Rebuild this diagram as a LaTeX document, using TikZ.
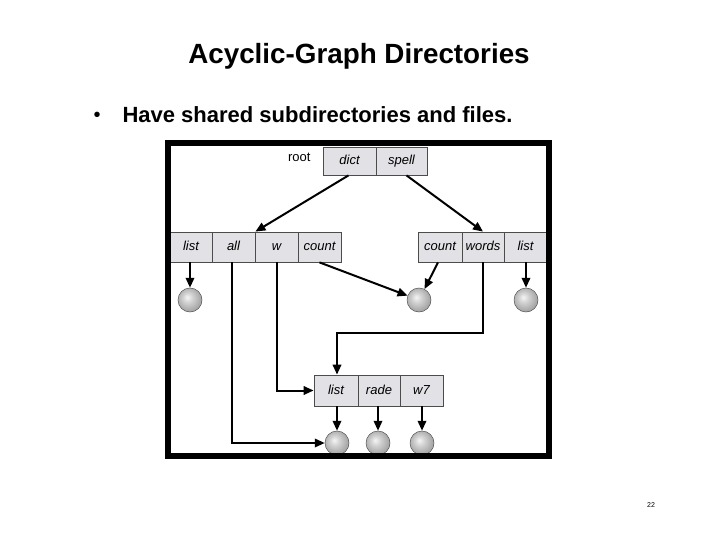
\documentclass[tikz,border=0pt]{standalone}
\usepackage{fontspec}
\setmainfont{Liberation Sans}
\usetikzlibrary{arrows.meta}
\definecolor{cellgray}{RGB}{226,226,230}
\pgfdeclareradialshading{fileball}{\pgfpoint{-6bp}{6bp}}{%
  color(0bp)=(gray!8); color(10bp)=(gray!35); color(22bp)=(gray!62); color(26bp)=(gray!70); color(50bp)=(gray!70)}
\begin{document}
\begin{tikzpicture}[x=1pt,y=-1pt,
 cell/.style={draw=black!70, line width=0.8pt, fill=cellgray, minimum height=30pt, inner sep=0pt, text height=9.5pt, text depth=2pt, font=\fontsize{13}{15}\selectfont\itshape},
 ballnode/.style={circle, minimum size=24pt, inner sep=0pt, shading=fileball, draw=gray!65!black, line width=0.5pt},
 arr/.style={line width=2pt, -{Triangle[length=10pt,width=8.5pt]}}]
\useasboundingbox (0,0) rectangle (720,540);

\node[font=\bfseries\fontsize{27.8}{32}\selectfont, anchor=base] (title) at (359,64) {Acyclic-Graph Directories};
\node[anchor=base west, font=\fontsize{20}{24}\selectfont] (bul) at (90,122) {•};
\node[anchor=base west, font=\bfseries\fontsize{22}{26}\selectfont] (btxt) at (119,123) {Have shared subdirectories and files.};
\node[font=\fontsize{7}{8}\selectfont] (pg) at (651,505) {22};

% root
\node[anchor=base east, font=\fontsize{13}{15}\selectfont] (root) at (314,162) {root};
\node[cell, minimum width=53pt, minimum height=28pt] (dict) at (349.5,161) {dict};
\node[cell, minimum width=51pt, minimum height=28pt] (spell) at (401.5,161) {spell};

% left directory
\node[cell, minimum width=42pt] (ll) at (191,247) {list};
\node[cell, minimum width=43pt] (la) at (233.5,247) {all};
\node[cell, minimum width=43pt] (lw) at (276.5,247) {w};
\node[cell, minimum width=43pt] (lc) at (319.5,247) {count};

% right directory
\node[cell, minimum width=44pt] (rc) at (440,247) {count};
\node[cell, minimum width=42pt] (rw) at (483,247) {words};
\node[cell, minimum width=43pt] (rl) at (525.5,247) {list};

% bottom directory
\node[cell, minimum width=44pt, minimum height=31pt] (bl) at (336,390.5) {list};
\node[cell, minimum width=42pt, minimum height=31pt] (br) at (379,390.5) {rade};
\node[cell, minimum width=43pt, minimum height=31pt] (bw) at (421.5,390.5) {w7};

% files
\node[ballnode] (c1) at (190,300) {};
\node[ballnode] (c2) at (419,300) {};
\node[ballnode] (c3) at (526,300) {};
\node[ballnode] (d1) at (337,443) {};
\node[ballnode] (d2) at (378,443) {};
\node[ballnode] (d3) at (422,443) {};

\coordinate (k) at (337,333);

% connectors
\draw[arr] ([xshift=-1pt]dict.south) -- (la.north east);
\draw[arr] ([xshift=5pt]spell.south) -- (rw.north);
\draw[arr] (ll.south -| c1) -- (c1.north);
\draw[arr] (lc.south) -- (c2);
\draw[arr] ([xshift=-2pt]rc.south) -- (c2);
\draw[arr] (rl.south -| c3) -- (c3.north);
\draw[arr] ([xshift=-1.5pt]la.south) |- (d1.west);
\draw[arr] (lw.south) |- (bl.west);
\draw[arr] (rw.south) |- (k) -- (bl.north -| k);
\draw[arr] (bl.south -| d1) -- (d1.north);
\draw[arr] (br.south -| d2) -- (d2.north);
\draw[arr] (bw.south -| d3) -- (d3.north);

% frame
\draw[line width=6pt] (168,143) rectangle (549,456);
\end{tikzpicture}
\end{document}
